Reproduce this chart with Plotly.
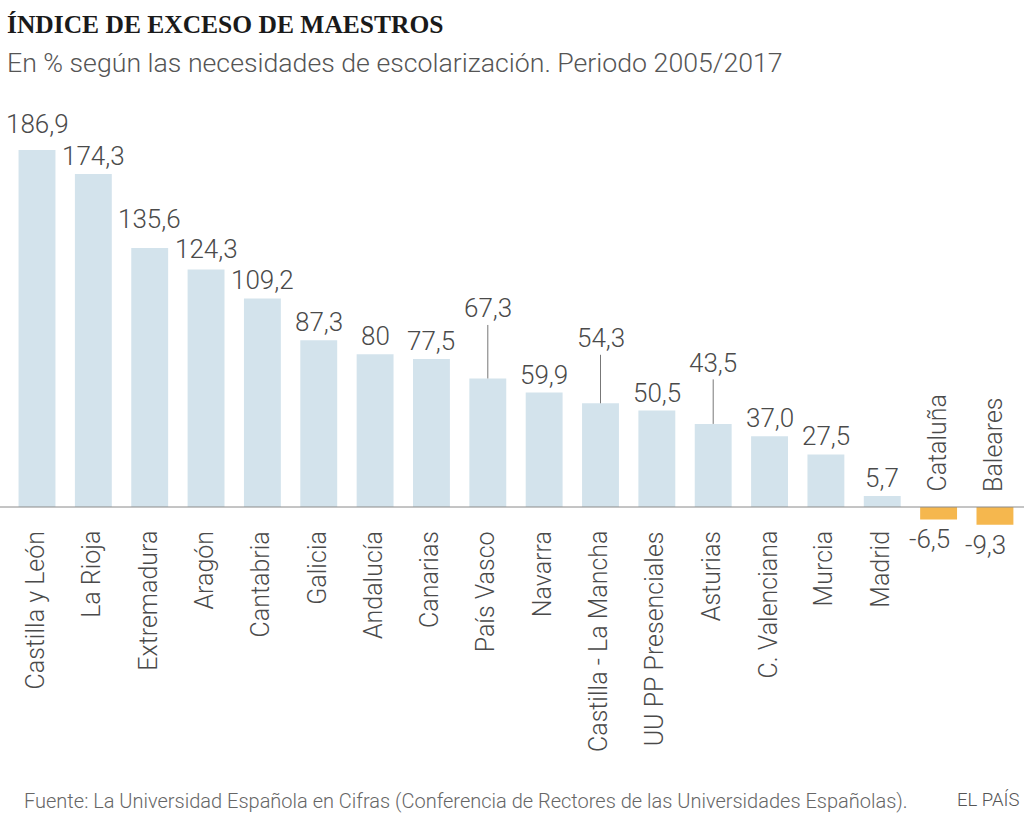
import plotly.graph_objects as go

# ---- data ----
regions = ["Castilla y León", "La Rioja", "Extremadura", "Aragón", "Cantabria", "Galicia",
           "Andalucía", "Canarias", "País Vasco", "Navarra", "Castilla - La Mancha",
           "UU PP Presenciales", "Asturias", "C. Valenciana", "Murcia", "Madrid",
           "Cataluña", "Baleares"]
values = [186.9, 174.3, 135.6, 124.3, 109.2, 87.3, 80.0, 77.5, 67.3, 59.9, 54.3,
          50.5, 43.5, 37.0, 27.5, 5.7, -6.5, -9.3]
value_labels = ["186,9", "174,3", "135,6", "124,3", "109,2", "87,3", "80", "77,5", "67,3",
                "59,9", "54,3", "50,5", "43,5", "37,0", "27,5", "5,7", "-6,5", "-9,3"]

title = "ÍNDICE DE EXCESO DE MAESTROS"
subtitle = "En % según las necesidades de escolarización. Periodo 2005/2017"
source = "Fuente: La Universidad Española en Cifras (Conferencia de Rectores de las Universidades Españolas)."
brand = "EL PAÍS"

# ---- style ----
W, H = 1024, 831
POS_COLOR = "#d3e3ec"
NEG_COLOR = "#f5b74e"
TEXT_COLOR = "#4a4a4a"
FONT = "Roboto"
WEIGHT = 300
# leader-line offsets (pixels) for labels lifted above their bars
leader_offsets = {"País Vasco": -70, "Castilla - La Mancha": -65, "Asturias": -61}
# small per-label vertical nudges (pixels)
label_lift = {"Castilla y León": 8, "Extremadura": 11, "Aragón": 3}

idx = list(range(len(regions)))
colors = [POS_COLOR if v >= 0 else NEG_COLOR for v in values]

fig = go.Figure()
fig.add_trace(go.Bar(x=idx, y=values, marker=dict(color=colors, line=dict(width=0)),
                     width=0.655, hoverinfo="skip"))

annotations = []
for i, (r, v, lab) in enumerate(zip(regions, values, value_labels)):
    vfont = dict(family=FONT, size=26, color=TEXT_COLOR, weight=WEIGHT)
    cfont = dict(family=FONT, size=25, color=TEXT_COLOR, weight=WEIGHT)
    if v >= 0:
        if r in leader_offsets:
            annotations.append(dict(x=i, y=v, xref="x", yref="y", text=lab, font=vfont,
                                    showarrow=True, ax=0, ay=leader_offsets[r],
                                    arrowhead=0, arrowwidth=1, arrowcolor="#777777",
                                    standoff=0, startstandoff=0))
        else:
            annotations.append(dict(x=i, y=v, xref="x", yref="y", text=lab, font=vfont,
                                    showarrow=False, yanchor="bottom",
                                    yshift=1 + label_lift.get(r, 0)))
        annotations.append(dict(x=i, y=0, xref="x", yref="y", text=r, textangle=-90,
                                font=cfont, showarrow=False, yanchor="top", yshift=-22,
                                xshift=-2))
    else:
        annotations.append(dict(x=i, y=v, xref="x", yref="y", text=lab, font=vfont,
                                showarrow=False, yanchor="top", yshift=-3, xshift=-9))
        annotations.append(dict(x=i, y=0, xref="x", yref="y", text=r, textangle=-90,
                                font=cfont, showarrow=False, yanchor="bottom", yshift=13,
                                xshift=-2))

def py(px):
    return 1 - px / H

annotations += [
    dict(x=5 / W, y=py(8), xref="paper", yref="paper", xanchor="left", yanchor="top",
         text="<b>" + title + "</b>", showarrow=False,
         font=dict(family="Liberation Serif", size=25.5, color="#1a1a1a")),
    dict(x=5 / W, y=py(45), xref="paper", yref="paper", xanchor="left", yanchor="top",
         text=subtitle, showarrow=False,
         font=dict(family=FONT, size=26.7, color="#555555", weight=WEIGHT)),
    dict(x=22 / W, y=py(787), xref="paper", yref="paper", xanchor="left", yanchor="top",
         text=source, showarrow=False,
         font=dict(family=FONT, size=20, color="#666666", weight=WEIGHT)),
    dict(x=1021 / W, y=py(787), xref="paper", yref="paper", xanchor="right", yanchor="top",
         text=brand, showarrow=False,
         font=dict(family=FONT, size=18.5, color="#555555", weight=WEIGHT)),
]

pitch = 56.35
x0 = -37 / pitch
k = 1.91
ymax = 507 / k
ymin = ymax - H / k

fig.update_layout(
    width=W, height=H,
    margin=dict(l=0, r=0, t=0, b=0),
    paper_bgcolor="white", plot_bgcolor="white",
    showlegend=False,
    xaxis=dict(range=[x0, x0 + W / pitch], visible=False, fixedrange=True),
    yaxis=dict(range=[ymin, ymax], visible=False, fixedrange=True),
    annotations=annotations,
    shapes=[dict(type="line", xref="paper", yref="y", x0=0, x1=1, y0=0, y1=0,
                 line=dict(color="#8a8a8a", width=1), layer="above")],
)

fig.write_html("out.html")
